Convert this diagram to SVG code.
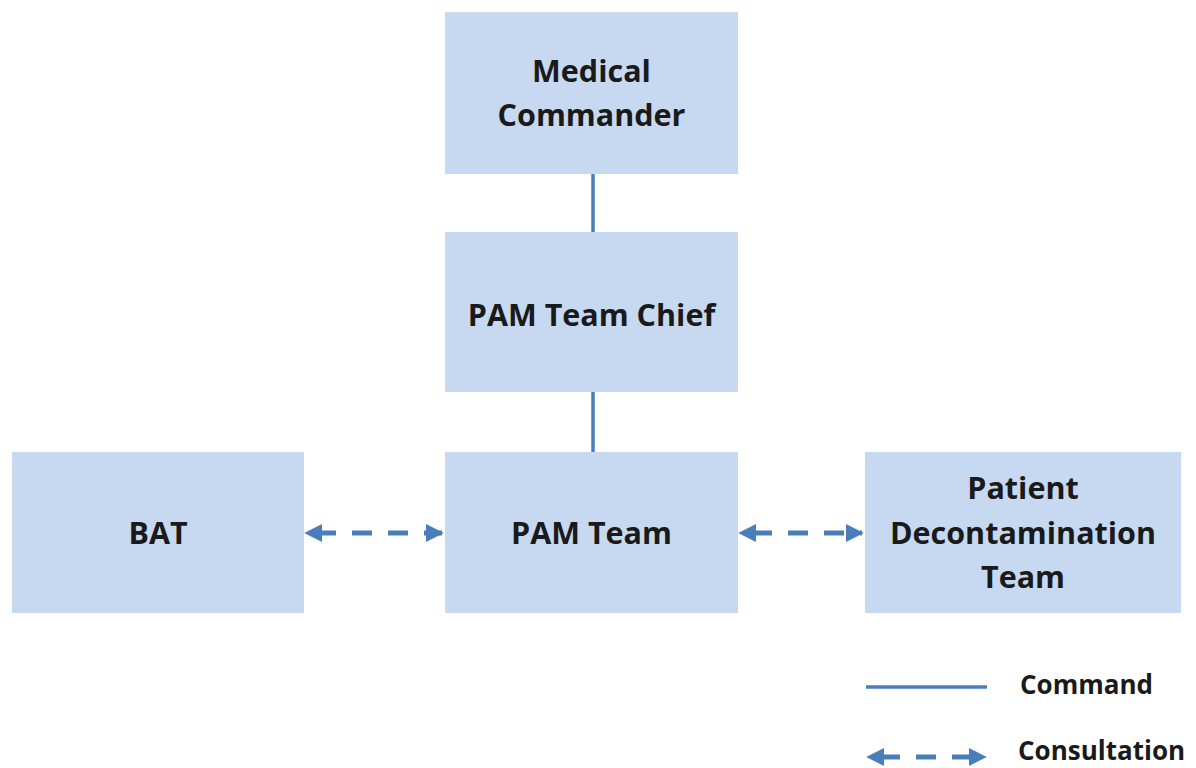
<svg xmlns="http://www.w3.org/2000/svg" width="1196" height="768" viewBox="0 0 1196 768">
<style>
.box{fill:#C6D9F0;}
.t{font-family:"Open Sans","Liberation Sans",sans-serif;font-weight:bold;font-size:30.5px;fill:#1a1a1a;text-anchor:middle;}
.lg{font-family:"Open Sans","Liberation Sans",sans-serif;font-weight:bold;font-size:26px;fill:#1a1a1a;}
.cmd{stroke:#4A7EBB;stroke-width:3.5;fill:none;}
.con{stroke:#4A7EBB;stroke-width:5;fill:none;stroke-dasharray:20 16;}
</style>
<defs>
<marker id="ah" viewBox="0 0 10 10" refX="9" refY="5" markerWidth="3.6" markerHeight="3.6" orient="auto-start-reverse" markerUnits="strokeWidth">
<path d="M0,0 L10,5 L0,10 Z" fill="#4A7EBB"/>
</marker>
</defs>
<rect width="1196" height="768" fill="#fff"/>
<g id="connectors">
<line class="con" x1="306" y1="533" x2="442" y2="533" marker-start="url(#ah)" marker-end="url(#ah)" stroke-dashoffset="-10"/>
<line class="con" x1="740" y1="533" x2="862" y2="533" marker-start="url(#ah)" marker-end="url(#ah)" stroke-dashoffset="-12"/>
<line class="cmd" x1="593" y1="174" x2="593" y2="232"/>
<line class="cmd" x1="593" y1="392" x2="593" y2="452"/>
</g>
<g id="medical-commander">
<rect class="box" x="445" y="12" width="293" height="162"/>
<text class="t" x="591.5" y="82">Medical</text>
<text class="t" x="591.5" y="126">Commander</text>
</g>
<g id="pam-team-chief">
<rect class="box" x="445" y="232" width="293" height="160"/>
<text class="t" x="591.5" y="326">PAM Team Chief</text>
</g>
<g id="pam-team">
<rect class="box" x="445" y="452" width="293" height="161"/>
<text class="t" x="591.5" y="544">PAM Team</text>
</g>
<g id="bat">
<rect class="box" x="12" y="452" width="292" height="161"/>
<text class="t" x="158" y="544">BAT</text>
</g>
<g id="patient-decon">
<rect class="box" x="865" y="452" width="316" height="161"/>
<text class="t" x="1023" y="499">Patient</text>
<text class="t" x="1023" y="544">Decontamination</text>
<text class="t" x="1023" y="588">Team</text>
</g>
<g id="legend">
<line class="cmd" x1="866" y1="687" x2="987" y2="687"/>
<text class="lg" x="1020" y="694">Command</text>
<line class="con" x1="868" y1="757" x2="985" y2="757" marker-start="url(#ah)" marker-end="url(#ah)" stroke-dashoffset="-12"/>
<text class="lg" x="1018" y="760">Consultation</text>
</g>
</svg>
